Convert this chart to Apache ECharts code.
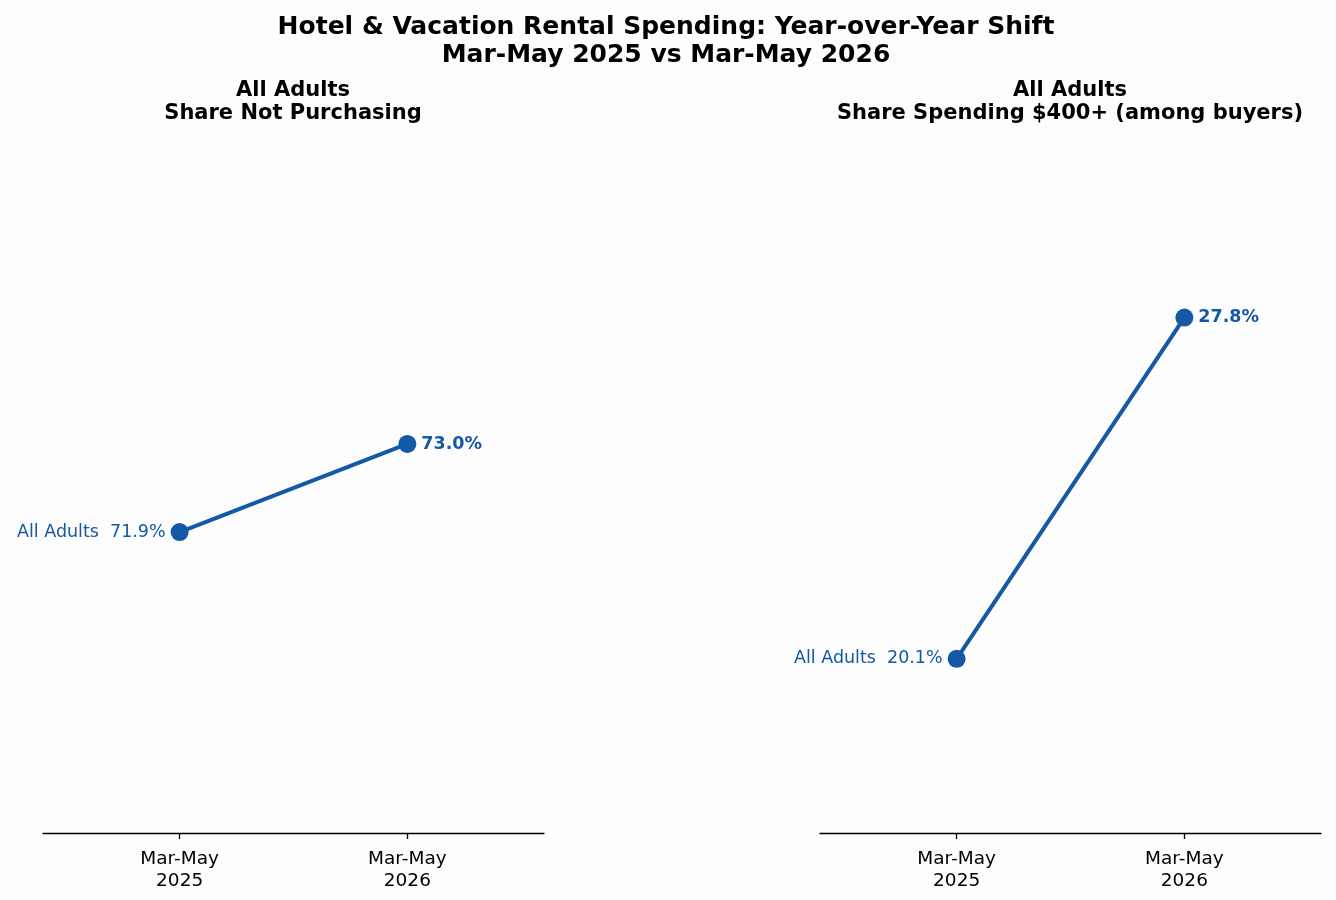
<!doctype html>
<html>
    <head>
        <meta charset="utf-8">
        <style>
            html, body { margin: 0; padding: 0; background: #fdfdfd; }
            #main { width: 1336px; height: 900px; }
        </style>
    </head>
    <body>
        <div id="main"></div>
        <script src="https://cdn.jsdelivr.net/npm/echarts@6/dist/echarts.min.js"></script>
        <script>
            var periods = ['Mar-May\n2025', 'Mar-May\n2026'];
            var groupName = 'All Adults';
            var notPurchasing = [71.9, 73.0];
            var spending400 = [20.1, 27.8];
            var panelTitles = ['All Adults\nShare Not Purchasing', 'All Adults\nShare Spending $400+ (among buyers)'];

            var BLUE = '#1558a5';
            var FONT = 'DejaVu Sans';

            var chart = echarts.init(document.getElementById('main'));

            function pointData(values) {
                return values.map(function (v, i) {
                    var first = i === 0;
                    return {
                        value: [i, v],
                        label: {
                            show: true,
                            position: first ? 'left' : 'right',
                            distance: 5,
                            fontWeight: first ? 'normal' : 'bold',
                            fontSize: 17.5,
                            fontFamily: FONT,
                            color: BLUE,
                            formatter: first ? groupName + '  ' + v.toFixed(1) + '%' : v.toFixed(1) + '%'
                        }
                    };
                });
            }

            function xAxis(gridIndex) {
                return {
                    gridIndex: gridIndex,
                    type: 'value',
                    min: -0.6,
                    max: 1.6,
                    splitLine: { show: false },
                    axisLine: { show: true, onZero: false, lineStyle: { color: '#000', width: 1.3 } },
                    axisTick: { show: true, customValues: [0, 1], length: 6, lineStyle: { color: '#000', width: 1.3 } },
                    axisLabel: {
                        customValues: [0, 1],
                        formatter: function (v) { return periods[Math.round(v)]; },
                        fontSize: 18.5,
                        lineHeight: 22,
                        fontFamily: FONT,
                        color: '#000',
                        margin: 15
                    }
                };
            }

            chart.setOption({
                backgroundColor: '#fdfdfd',
                animation: false,
                title: [
                    {
                        text: 'Hotel & Vacation Rental Spending: Year-over-Year Shift\nMar-May 2025 vs Mar-May 2026',
                        left: 661, top: 8, textAlign: 'center',
                        textStyle: { fontSize: 25, fontWeight: 'bold', lineHeight: 28, fontFamily: FONT, color: '#000' }
                    },
                    {
                        text: panelTitles[0],
                        left: 288, top: 74, textAlign: 'center',
                        textStyle: { fontSize: 21, fontWeight: 'bold', lineHeight: 23, fontFamily: FONT, color: '#000' }
                    },
                    {
                        text: panelTitles[1],
                        left: 1065, top: 74, textAlign: 'center',
                        textStyle: { fontSize: 21, fontWeight: 'bold', lineHeight: 23, fontFamily: FONT, color: '#000' }
                    }
                ],
                grid: [
                    { left: 43, top: 135, width: 501, height: 698 },
                    { left: 820, top: 135, width: 501, height: 698 }
                ],
                xAxis: [xAxis(0), xAxis(1)],
                yAxis: [
                    { gridIndex: 0, type: 'value', min: 68.14, max: 76.86, show: false },
                    { gridIndex: 1, type: 'value', min: 16.17, max: 31.92, show: false }
                ],
                series: [
                    {
                        type: 'line', xAxisIndex: 0, yAxisIndex: 0,
                        data: pointData(notPurchasing),
                        symbol: 'circle', symbolSize: 18,
                        itemStyle: { color: BLUE },
                        lineStyle: { color: BLUE, width: 4 }
                    },
                    {
                        type: 'line', xAxisIndex: 1, yAxisIndex: 1,
                        data: pointData(spending400),
                        symbol: 'circle', symbolSize: 18,
                        itemStyle: { color: BLUE },
                        lineStyle: { color: BLUE, width: 4 }
                    }
                ]
            });

            window.addEventListener('resize', function () {
                chart.resize();
            });
        </script>
    </body>
</html>
